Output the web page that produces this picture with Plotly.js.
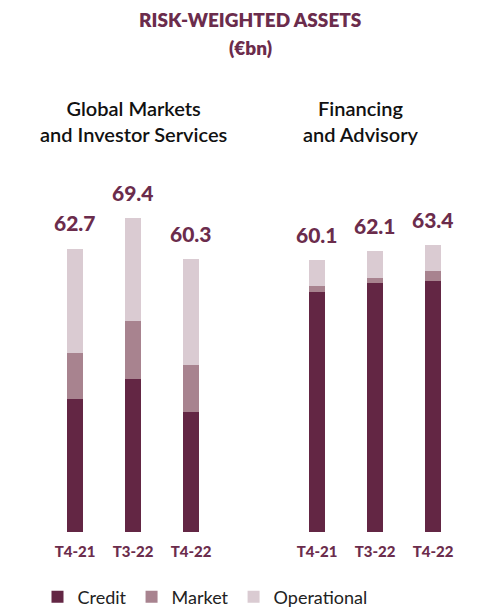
<!DOCTYPE html>
<html>
<head>
<meta charset="utf-8">
<script src="https://cdn.plot.ly/plotly-3.0.1.min.js"></script>
<style>html,body{margin:0;padding:0;background:#fff;}#chart{width:500px;height:607px;}</style>
</head>
<body>
<div id="chart"></div>
<script>
// Data
var periods = ["T4-21", "T3-22", "T4-22"];
var gmisCredit = [29.5, 33.8, 26.6];
var gmisMarket = [10.0, 12.8, 10.4];
var gmisOperational = [23.2, 22.8, 23.3];
var gmisTotal = [62.7, 69.4, 60.3];
var faCredit = [53.2, 55.0, 55.5];
var faMarket = [1.3, 1.3, 2.2];
var faOperational = [5.6, 5.8, 5.7];
var faTotal = [60.1, 62.1, 63.4];

var cCredit = "#632644", cMarket = "#a8838f", cOper = "#dacbd2", cTitle = "#6b2c4c";
var FONT = "Lato, 'Open Sans', sans-serif";

function bar(x, y, name, color, xa, show) {
  return {type: "bar", x: x, y: y, name: name, xaxis: xa, yaxis: "y",
    marker: {color: color, line: {width: 0}}, width: 0.28, showlegend: show,
    legendgroup: name, hoverinfo: "skip"};
}
var data = [
  bar(periods, gmisCredit, "Credit", cCredit, "x", true),
  bar(periods, gmisMarket, "Market", cMarket, "x", true),
  bar(periods, gmisOperational, "Operational", cOper, "x", true),
  bar(periods, faCredit, "Credit", cCredit, "x2", false),
  bar(periods, faMarket, "Market", cMarket, "x2", false),
  bar(periods, faOperational, "Operational", cOper, "x2", false)
];

var annotations = [];
function totals(tot, xa) {
  for (var i = 0; i < periods.length; i++) {
    annotations.push({x: periods[i], y: tot[i], xref: xa, yref: "y", text: tot[i].toFixed(1),
      showarrow: false, xanchor: "center", yanchor: "middle", yshift: 26,
      font: {family: FONT, size: 21, color: cTitle, weight: 900}});
  }
}
totals(gmisTotal, "x");
totals(faTotal, "x2");
annotations.push({xref: "paper", yref: "paper", x: 0.5, y: 1 - 20/607, xanchor: "center", yanchor: "middle", showarrow: false,
  text: "RISK-WEIGHTED ASSETS", font: {family: FONT, size: 19, color: cTitle, weight: 800}});
annotations.push({xref: "paper", yref: "paper", x: 0.5, y: 1 - 47/607, xanchor: "center", yanchor: "middle", showarrow: false,
  text: "(€bn)", font: {family: FONT, size: 19, color: cTitle, weight: 800}});
annotations.push({xref: "paper", yref: "paper", x: 134/500, y: 1 - 121/607, xanchor: "center", yanchor: "middle", showarrow: false,
  text: "Global Markets<br>and Investor Services", align: "center",
  font: {family: FONT, size: 20, color: "#111", weight: 600}});
annotations.push({xref: "paper", yref: "paper", x: 361/500, y: 1 - 121/607, xanchor: "center", yanchor: "middle", showarrow: false,
  text: "Financing<br>and Advisory", align: "center",
  font: {family: FONT, size: 20, color: "#111", weight: 600}});

var xax = {type: "category", showgrid: false, zeroline: false, showline: false, ticks: "",
  ticklabelstandoff: 9, automargin: false,
  tickfont: {family: FONT, size: 15, color: cTitle, weight: 900}, fixedrange: true};
var layout = {
  width: 500, height: 607, margin: {l: 0, r: 0, t: 0, b: 0, autoexpand: false},
  paper_bgcolor: "#fff", plot_bgcolor: "#fff",
  barmode: "stack",
  xaxis: Object.assign({}, xax, {domain: [46/500, 220/500], anchor: "y"}),
  xaxis2: Object.assign({}, xax, {domain: [288/500, 462/500], anchor: "y"}),
  yaxis: {range: [0, 80], domain: [1 - 532/607, 1 - 170.4/607], visible: false, showgrid: false, zeroline: false, fixedrange: true, automargin: false},
  showlegend: true,
  legend: {orientation: "h", x: 0.075, y: 1 - 597/607, yanchor: "middle", xanchor: "left",
    font: {family: FONT, size: 18, color: "#222"}, traceorder: "normal", itemclick: false},
  annotations: annotations
};
Plotly.newPlot("chart", data, layout, {displayModeBar: false, staticPlot: true});
</script>
</body>
</html>
